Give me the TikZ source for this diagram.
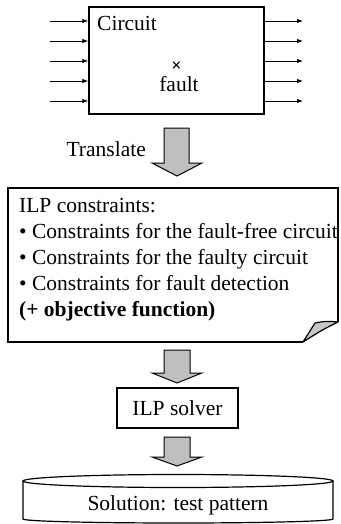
\documentclass[tikz,border=0pt]{standalone}
\usepackage{fontspec}
\setmainfont{Liberation Serif}
\usetikzlibrary{arrows.meta}

\tikzset{
  txt/.style={font=\fontsize{21.5}{26}\selectfont, inner sep=0pt},
  wire/.style={-{Latex[length=6pt,width=4.5pt]}, line width=0.9pt},
  frame/.style={draw, line width=1.2pt},
  bigarrow/.style={fill=gray!50, draw=black, line width=1pt, line join=miter}
}

\begin{document}
\begin{tikzpicture}[x=1pt,y=-1pt]
    \useasboundingbox (0,0) rectangle (340,524);

    %Circuit
    \node[frame, minimum width=175pt, minimum height=107pt, inner sep=0pt] (circuit) at (176.5,60.5) {};
    \node[txt, anchor=base west] (circlbl) at (97,31) {Circuit};
    \node[inner sep=0pt, font=\fontsize{18}{18}\selectfont\bfseries] (cross) at (176.5,67) {×};
    \node[txt, anchor=base] (fault) at (179,92) {fault};
    \foreach \y [count=\i] in {21,41,61,81,101} {
      \coordinate (in\i) at (50,\y);
      \coordinate (out\i) at (303,\y);
      \draw[wire] (in\i) -- (in\i -| circuit.west);
      \draw[wire] (out\i -| circuit.east) -- (out\i);
    }

    %Translate
    \node[txt, anchor=base east] (trl) at (146,156) {Translate};
    \draw[bigarrow] (164,128) -- (189,128) -- (189,163) -- (202,163) -- (177,176) -- (152,163) -- (164,163) -- cycle;

    %ILP constraints
    \draw[frame] (303,342) -- (8,342) -- (8,188) -- (338,188) -- (338,322);
    \filldraw[fill=gray!45, line width=1.2pt, line join=round] (303,342) -- (315,323) .. controls (326,321) .. (338,322) .. controls (322,330) .. (303,342) -- cycle;
    \node[txt, anchor=north west, align=left] (ilp) at (19,198.5) {ILP constraints:\\
      • Constraints for the fault-free circuit\\
      • Constraints for the faulty circuit\\
      • Constraints for fault detection\\
      {\bfseries (+ objective function)}};

    \draw[bigarrow] (164,350) -- (190,350) -- (190,373) -- (202,373) -- (177,383) -- (152,373) -- (164,373) -- cycle;

    %ILP solver
    \node[frame, txt, minimum width=121pt, minimum height=40pt] (solver) at (177.5,408) {ILP solver};

    \draw[bigarrow] (164,437) -- (190,437) -- (190,457) -- (202,457) -- (177,466) -- (152,457) -- (164,457) -- cycle;

    %Solution
    \draw[line width=1.2pt] (178,481) ellipse [x radius=155pt, y radius=6.5pt];
    \draw[line width=1.2pt] (23,481) -- (23,519) arc[start angle=180, end angle=360, x radius=155pt, y radius=4pt] -- (333,481);
    \node[txt, anchor=base] (sol) at (178,510) {Solution: test pattern};
\end{tikzpicture}
\end{document}
